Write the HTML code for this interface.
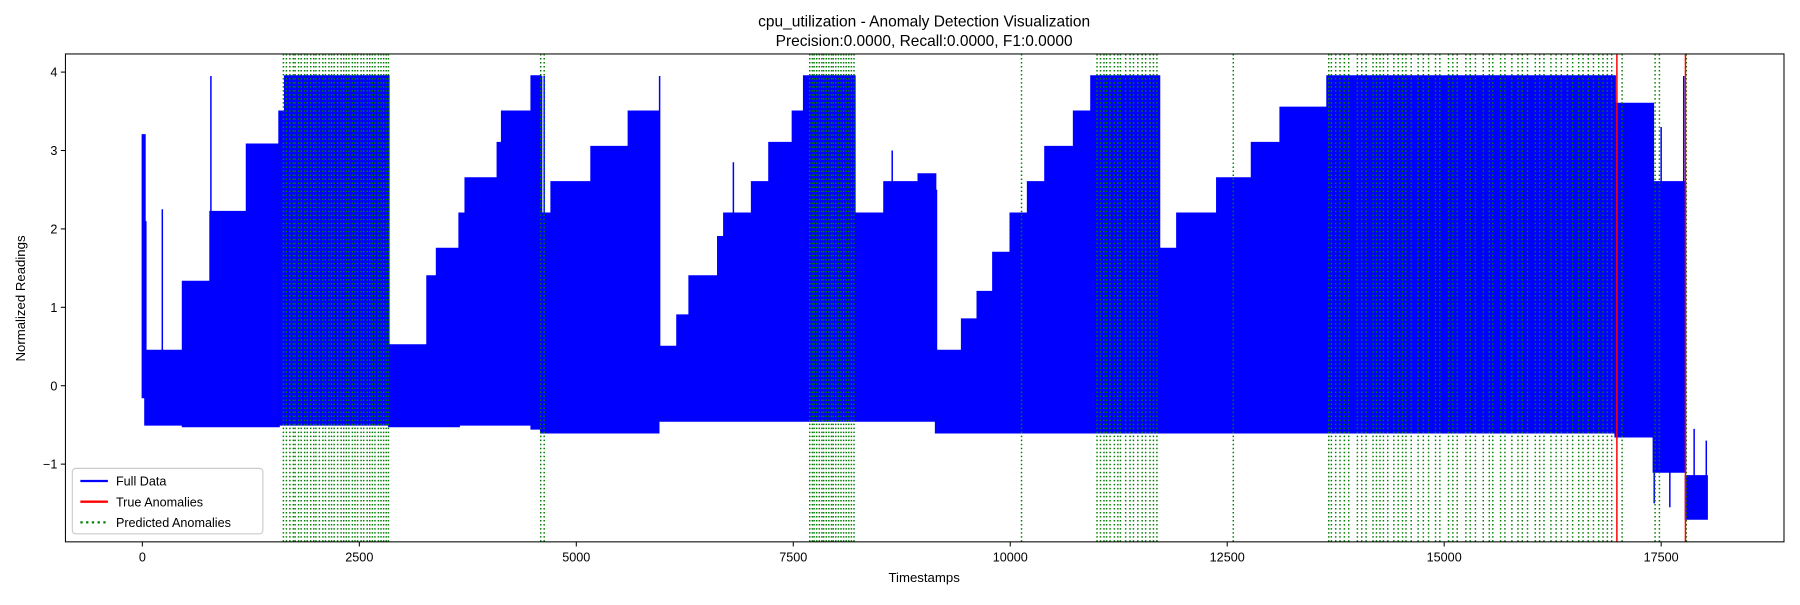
<!DOCTYPE html>
<html><head><meta charset="utf-8"><style>
body{margin:0;background:#fff;}
svg text{font-family:"Liberation Sans","DejaVu Sans",sans-serif;fill:#000;}
</style></head><body>
<svg id="chart" width="1800" height="600" xmlns="http://www.w3.org/2000/svg">
<rect width="1800" height="600" fill="#fff"/>
<g transform="scale(1.148)">
<text x="805" y="23" font-size="13.5" text-anchor="middle">cpu_utilization - Anomaly Detection Visualization</text>
<text x="805" y="40" font-size="13.5" text-anchor="middle">Precision:0.0000, Recall:0.0000, F1:0.0000</text>
<g id="plot"></g>
<g id="axes"></g>
<text x="805" y="507" font-size="11.5" text-anchor="middle">Timestamps</text>
<text x="22" y="260" font-size="11.5" text-anchor="middle" transform="rotate(-90 22 260)">Normalized Readings</text>
<g>
<rect x="63" y="408" width="166" height="57" rx="3" fill="#fff" fill-opacity="0.8" stroke="#ccc"/>
<g><line x1="70" y1="419" x2="94" y2="419" stroke="#0000ff" stroke-width="2"/><text x="101" y="423" font-size="11">Full Data</text></g>
<g><line x1="70" y1="437" x2="94" y2="437" stroke="#ff0000" stroke-width="2"/><text x="101" y="441" font-size="11">True Anomalies</text></g>
<g><line x1="70" y1="455" x2="94" y2="455" stroke="#008000" stroke-width="2" stroke-dasharray="2,3"/><text x="101" y="459" font-size="11">Predicted Anomalies</text></g>
</g>
</g>
</svg>
<script>
const segStart=[0,30,463,780,1200,1575,1640,2840,3280,3390,3650,3720,4090,4140,4480,4590,4650,4710,5170,5600,5950,6160,6300,6630,6700,7020,7220,7490,7620,8210,8545,8940,9140,9440,9620,9800,10000,10200,10400,10730,10930,11720,11920,12380,12780,13110,13650,16970,17410,17780,18030];
const segTop=[3.2,0.45,1.33,2.22,3.08,3.5,3.95,0.52,1.4,1.75,2.2,2.65,3.1,3.5,3.95,2.2,2.2,2.6,3.05,3.5,0.5,0.9,1.4,1.9,2.2,2.6,3.1,3.5,3.95,2.2,2.6,2.7,0.45,0.85,1.2,1.7,2.2,2.6,3.05,3.5,3.95,1.75,2.2,2.65,3.1,3.55,3.95,3.6,2.6,-1.15];
const segBot=[-0.15,-0.5,-0.52,-0.52,-0.52,-0.5,-0.5,-0.52,-0.52,-0.52,-0.5,-0.5,-0.5,-0.5,-0.55,-0.6,-0.6,-0.6,-0.6,-0.6,-0.45,-0.45,-0.45,-0.45,-0.45,-0.45,-0.45,-0.45,-0.45,-0.45,-0.45,-0.45,-0.6,-0.6,-0.6,-0.6,-0.6,-0.6,-0.6,-0.6,-0.6,-0.6,-0.6,-0.6,-0.6,-0.6,-0.6,-0.65,-1.1,-1.7];
const spikeT=[10,40,230,480,790,4600,4630,5960,6810,8640,9150,10140,17040,17420,17500,17600,17760,17880,18020];
const spikeV=[3.2,2.1,2.25,1.3,3.95,3.95,3.95,3.95,2.85,3.0,2.5,2.2,3.5,-1.5,3.3,-1.55,3.95,-0.55,-0.7];
const spikeBase=[0,0,0,0,0,0,0,0,0,0,0,0,0,-0.6,0,-0.6,0,-1.15,-1.15];
const trueAnom=[16990,17780];
const predAnom=[1625,1660,1700,1740,1760,1800,1830,1870,1900,1940,1975,2000,2040,2080,2110,2150,2180,2210,2250,2290,2320,2350,2380,2420,2450,2480,2520,2550,2590,2620,2650,2680,2720,2750,2780,2810,2835,4590,4630,7690,7720,7740,7770,7800,7830,7850,7880,7910,7940,7960,7990,8020,8050,8080,8110,8140,8170,8200,10130,11000,11040,11080,11110,11150,11200,11240,11270,11330,11380,11420,11470,11520,11560,11610,11650,11690,12570,13670,13700,13750,13800,13850,13900,14000,14050,14100,14180,14220,14260,14300,14350,14420,14470,14520,14560,14620,14700,14760,14820,14900,14950,15050,15100,15150,15250,15300,15360,15450,15520,15560,15650,15700,15780,15850,15900,15960,16050,16100,16150,16230,16290,16350,16420,16480,16550,16600,16660,16720,16780,16830,16880,16930,17050,17430,17480,17790];
const xTicks=[0,2500,5000,7500,10000,12500,15000,17500];
const yTicks=[-1,0,1,2,3,4];

const L=57,R=1554,T=47,B=472;
const X=t=>124+t*0.0756;
const Y=v=>336-v*68.3;
const NS='http://www.w3.org/2000/svg';
const plot=document.getElementById('plot'),axes=document.getElementById('axes');
function mk(tag,attrs,parent){const e=document.createElementNS(NS,tag);for(const k in attrs)e.setAttribute(k,attrs[k]);parent.appendChild(e);return e;}

let d='';
for(let i=0;i<segTop.length;i++){
  const x0=X(segStart[i]),x1=X(segStart[i+1]);
  d+=`M${x0},${Y(segTop[i])}H${x1}V${Y(segBot[i])}H${x0}Z`;
}
const band=mk('path',{d:d,fill:'#0000ff',stroke:'#0000ff','stroke-width':1.3},plot);


for(let i=0;i<spikeT.length;i++){
  const s=mk('line',{x1:X(spikeT[i]),x2:X(spikeT[i]),y1:Y(spikeV[i]),y2:Y(spikeBase[i]),stroke:'#0000ff','stroke-width':1.3},plot);
  
  
}
for(const t of predAnom){
  const g=mk('line',{x1:X(t),x2:X(t),y1:T,y2:B,stroke:'#008000','stroke-width':1.3,'stroke-dasharray':'1.3,2.2'},plot);
  
  
}
for(const t of trueAnom){
  const r=mk('line',{x1:X(t),x2:X(t),y1:T,y2:B,stroke:'#ff0000','stroke-width':1.3},plot);
  
  
}
const frame=mk('rect',{x:L,y:T,width:R-L,height:B-T,fill:'none',stroke:'#000','stroke-width':0.9},axes);


for(const t of xTicks){
  const x=X(t);
  mk('line',{x1:x,x2:x,y1:B,y2:B+4,stroke:'#000','stroke-width':0.9},axes);
  const tx=mk('text',{x:x,y:B+17,'font-size':11,'text-anchor':'middle'},axes);
  tx.textContent=t;
  
  
}
for(const v of yTicks){
  const y=Y(v);
  mk('line',{x1:L-4,x2:L,y1:y,y2:y,stroke:'#000','stroke-width':0.9},axes);
  const ty=mk('text',{x:L-7,y:y+4,'font-size':11,'text-anchor':'end'},axes);
  ty.textContent=v<0?'\u2212'+(-v):v;
  
  
}
</script>
</body></html>
